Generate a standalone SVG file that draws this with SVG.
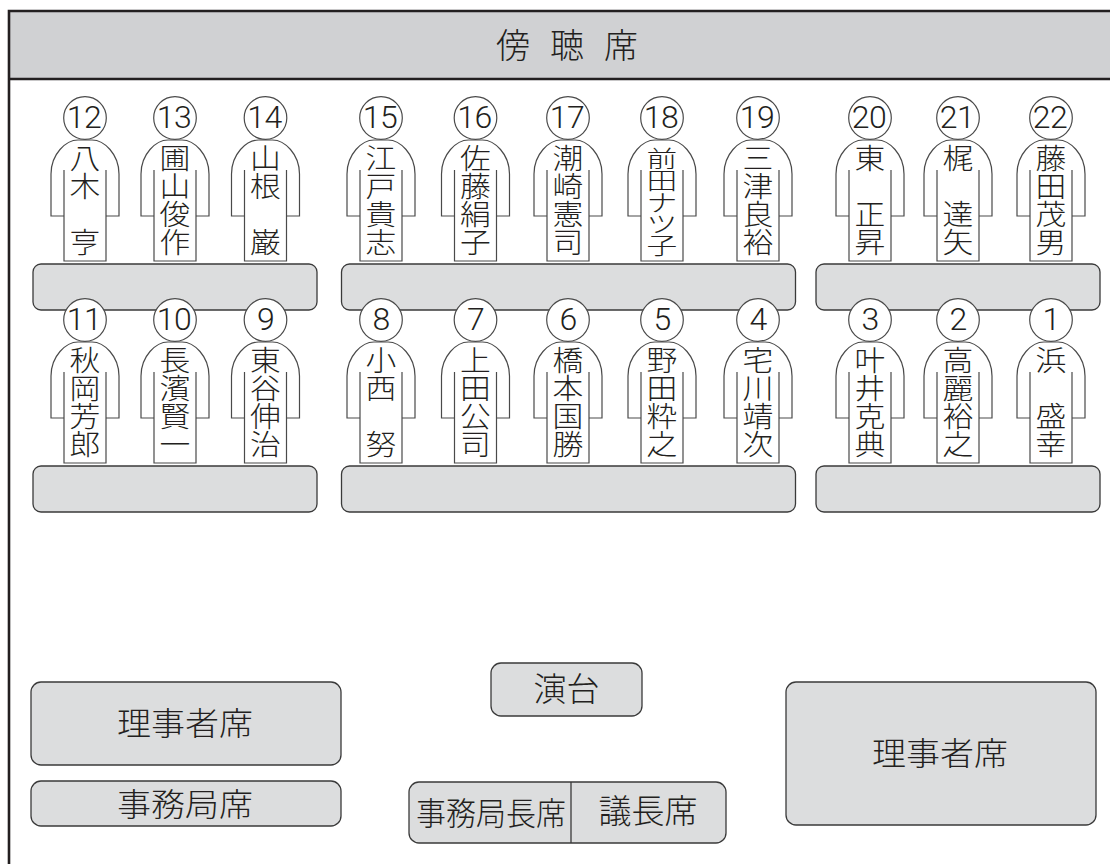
<svg xmlns="http://www.w3.org/2000/svg" width="1110" height="864" viewBox="0 0 1110 864">
<style>
text{font-family:"Noto Sans CJK JP","Noto Sans CJK SC",sans-serif;font-weight:300;fill:#231f20;text-anchor:middle}
.n{font-size:28.500px;transform:scaleX(1.08)}
.d{font-family:Roboto,"Liberation Sans",sans-serif;font-size:32px;letter-spacing:-.5px}
.desk{fill:#dcddde;stroke:#3a3a3a;stroke-width:1.3}
.fig{fill:#fff;stroke:#4a4a4a;stroke-width:1.2}
</style>
<defs>
<g id="fig" class="fig">
<path d="M-21 99H-34V57C-34 37-19 23-7 23H7C19 23 34 37 34 57V99H21"/>
<path d="M-21 53V144H21V53"/>
<circle r="21.300" cy="1"/>
</g>
</defs>
<rect width="1110" height="864" fill="#fff"/>
<g id="hall">
<rect x="9" y="11" width="1103" height="68" fill="#d0d1d3"/>
<path d="M9 864V11H1110M9 79H1110" fill="none" stroke="#231f20" stroke-width="2.600"/>
<text x="513 567 621" y="58 58 58" font-size="34">傍聴席</text>
</g>
<g id="desks-back">
<rect id="desk-b1" class="desk" x="33" y="264" width="284" height="46" rx="8"/>
<rect id="desk-b2" class="desk" x="341.500" y="264" width="454" height="46" rx="8"/>
<rect id="desk-b3" class="desk" x="816" y="264" width="284" height="46" rx="8"/>
</g>
<g id="desks-front">
<rect id="desk-f1" class="desk" x="33" y="466" width="284" height="46" rx="8"/>
<rect id="desk-f2" class="desk" x="341.500" y="466" width="454" height="46" rx="8"/>
<rect id="desk-f3" class="desk" x="816" y="466" width="284" height="46" rx="8"/>
</g>
<g id="seat-12" transform="translate(85 117)"><use href="#fig"/><text class="d" x="-1" y="11">12</text><text class="n" x="0 0 0" y="52 80 136">八木亨</text></g>
<g id="seat-13" transform="translate(175 117)"><use href="#fig"/><text class="d" x="-1" y="11">13</text><text class="n" x="0 0 0 0" y="52 80 108 136">圃山俊作</text></g>
<g id="seat-14" transform="translate(265.500 117)"><use href="#fig"/><text class="d" x="-1" y="11">14</text><text class="n" x="0 0 0" y="52 80 136">山根巌</text></g>
<g id="seat-15" transform="translate(381 117)"><use href="#fig"/><text class="d" x="-1" y="11">15</text><text class="n" x="0 0 0 0" y="52 80 108 136">江戸貴志</text></g>
<g id="seat-16" transform="translate(475.500 117)"><use href="#fig"/><text class="d" x="-1" y="11">16</text><text class="n" x="0 0 0 0" y="52 80 108 136">佐藤絹子</text></g>
<g id="seat-17" transform="translate(568 117)"><use href="#fig"/><text class="d" x="-1" y="11">17</text><text class="n" x="0 0 0 0" y="52 80 108 136">潮崎憲司</text></g>
<g id="seat-18" transform="translate(662 117)"><use href="#fig"/><text class="d" x="-1" y="11">18</text><g transform="scale(1 .8)"><text class="n" x="0 0 0 0 0" y="62 90 117 144 171">前田ナツ子</text></g></g>
<g id="seat-19" transform="translate(758 117)"><use href="#fig"/><text class="d" x="-1" y="11">19</text><text class="n" x="0 0 0 0" y="52 80 108 136">三津良裕</text></g>
<g id="seat-20" transform="translate(870 117)"><use href="#fig"/><text class="d" x="-1" y="11">20</text><text class="n" x="0 0 0" y="52 108 136">東正昇</text></g>
<g id="seat-21" transform="translate(958 117)"><use href="#fig"/><text class="d" x="-1" y="11">21</text><text class="n" x="0 0 0" y="52 108 136">梶達矢</text></g>
<g id="seat-22" transform="translate(1051 117)"><use href="#fig"/><text class="d" x="-1" y="11">22</text><text class="n" x="0 0 0 0" y="52 80 108 136">藤田茂男</text></g>
<g id="seat-11" transform="translate(85 319)"><use href="#fig"/><text class="d" x="-1" y="11">11</text><text class="n" x="0 0 0 0" y="52 80 108 136">秋岡芳郎</text></g>
<g id="seat-10" transform="translate(175 319)"><use href="#fig"/><text class="d" x="-1" y="11">10</text><text class="n" x="0 0 0 0" y="52 80 108 136">長濱賢一</text></g>
<g id="seat-9" transform="translate(265.500 319)"><use href="#fig"/><text class="d" y="11">9</text><text class="n" x="0 0 0 0" y="52 80 108 136">東谷伸治</text></g>
<g id="seat-8" transform="translate(381 319)"><use href="#fig"/><text class="d" y="11">8</text><text class="n" x="0 0 0" y="52 80 136">小西努</text></g>
<g id="seat-7" transform="translate(475.500 319)"><use href="#fig"/><text class="d" y="11">7</text><text class="n" x="0 0 0 0" y="52 80 108 136">上田公司</text></g>
<g id="seat-6" transform="translate(568 319)"><use href="#fig"/><text class="d" y="11">6</text><text class="n" x="0 0 0 0" y="52 80 108 136">橋本国勝</text></g>
<g id="seat-5" transform="translate(662 319)"><use href="#fig"/><text class="d" y="11">5</text><text class="n" x="0 0 0 0" y="52 80 108 136">野田粋之</text></g>
<g id="seat-4" transform="translate(758 319)"><use href="#fig"/><text class="d" y="11">4</text><text class="n" x="0 0 0 0" y="52 80 108 136">宅川靖次</text></g>
<g id="seat-3" transform="translate(870 319)"><use href="#fig"/><text class="d" y="11">3</text><text class="n" x="0 0 0 0" y="52 80 108 136">叶井克典</text></g>
<g id="seat-2" transform="translate(958 319)"><use href="#fig"/><text class="d" y="11">2</text><text class="n" x="0 0 0 0" y="52 80 108 136">高麗裕之</text></g>
<g id="seat-1" transform="translate(1051 319)"><use href="#fig"/><text class="d" y="11">1</text><text class="n" x="0 0 0" y="52 108 136">浜盛幸</text></g>
<g id="riji-left"><rect class="desk" x="31" y="682" width="310" height="83" rx="10"/><text transform="translate(185 735) scale(1 .92)" font-size="34">理事者席</text></g>
<g id="jimukyoku"><rect class="desk" x="31" y="781" width="310" height="45" rx="10"/><text transform="translate(185 816) scale(1 .92)" font-size="34">事務局席</text></g>
<g id="endai"><rect class="desk" x="491" y="663" width="151" height="53" rx="10"/><text x="566.500" y="701" font-size="33">演台</text></g>
<g id="chair-desk"><rect class="desk" x="409" y="782" width="317" height="61" rx="10"/><path d="M571 782V843" stroke="#3a3a3a" stroke-width="1.300"/><text transform="translate(491 825) scale(1 1.060)" font-size="30">事務局長席</text><text x="648" y="823" font-size="33">議長席</text></g>
<g id="riji-right"><rect class="desk" x="786" y="682" width="310" height="143" rx="10"/><text transform="translate(940 765) scale(1 .92)" font-size="34">理事者席</text></g>
</svg>
